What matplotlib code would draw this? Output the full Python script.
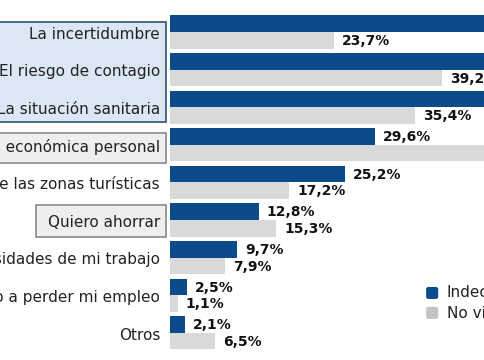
import matplotlib
matplotlib.use("Agg")
import matplotlib.pyplot as plt
from matplotlib.patches import Rectangle, FancyBboxPatch

categories = [
    "La incertidumbre",
    "El riesgo de contagio",
    "La situación sanitaria",
    "La situación económica personal",
    "La masificación de las zonas turísticas",
    "Quiero ahorrar",
    "Las necesidades de mi trabajo",
    "Tengo miedo a perder mi empleo",
    "Otros",
]
indecisos = [52.4, 48.1, 50.7, 29.6, 25.2, 12.8, 9.7, 2.5, 2.1]
no_viajara = [23.7, 39.2, 35.4, 46.9, 17.2, 15.3, 7.9, 1.1, 6.5]
series_names = ["Indecisos", "No viajará"]

BLUE = "#0b4a8b"
GRAY = "#d9d9d9"
LEG_GRAY = "#c4c4c4"

XMAX = 45.45
fig = plt.figure(figsize=(4.85, 3.6), dpi=100)
ax = fig.add_axes([0, 0, 1, 1])
ax.set_xlim(-24.53, XMAX)
ax.set_ylim(8.723, -0.851)
ax.axis("off")

h = 0.44


def value_label(v, y):
    x = v + 1.15
    if x < XMAX:  # labels of bars running off the visible area are not shown
        ax.text(x, y + 0.02, f"{v:.1f}%".replace(".", ","),
                ha="left", va="center", fontsize=10, fontweight="heavy",
                color="#111111")


for i, (cat, b, g) in enumerate(zip(categories, indecisos, no_viajara)):
    ax.barh(i - h / 2, b, height=h, color=BLUE, align="center")
    ax.barh(i + h / 2, g, height=h, color=GRAY, align="center")
    value_label(b, i - h / 2)
    value_label(g, i + h / 2)
    ax.text(-1.44, i + 0.06, cat, ha="right", va="center", fontsize=11,
            color="#222222")

# highlight boxes
ax.add_patch(Rectangle((-30, -0.266), 29.42, 2.656, facecolor="#dce7f6",
                       edgecolor="#2c4f7c", linewidth=1.2, zorder=0))
ax.add_patch(Rectangle((-30, 2.686), 29.42, 0.8, facecolor="#eeeeee",
                       edgecolor="#8a8a8a", linewidth=1.2, zorder=0))
ax.add_patch(Rectangle((-19.34, 4.60), 18.76, 0.85, facecolor="#eeeeee",
                       edgecolor="#8a8a8a", linewidth=1.2, zorder=0))

# legend
for k, (name, col) in enumerate(zip(series_names, [BLUE, LEG_GRAY])):
    yy = 6.94 + k * 0.53
    ax.add_patch(FancyBboxPatch((36.95, yy - 0.16), 1.75, 0.32,
                                boxstyle="round,pad=0.0,rounding_size=0.35",
                                mutation_aspect=0.18,
                                facecolor=col, edgecolor="none"))
    ax.text(39.9, yy, name, ha="left", va="center", fontsize=11,
            color="#222222")

fig.savefig("out.png", dpi=100)
